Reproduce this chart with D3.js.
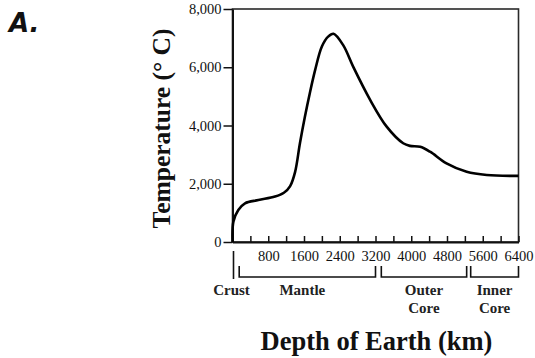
<!DOCTYPE html>
<html>
<head>
<meta charset="utf-8">
<script src="https://cdn.jsdelivr.net/npm/d3@7"></script>
<style>
  body { margin: 0; background: white; }
  svg { display: block; }
</style>
</head>
<body>
<div id="vizContainer"></div>
<script>
let w = 535;
let h = 358;

// temperature profile
let depthKm = [0, 20, 130, 280, 580, 950, 1150, 1290, 1400, 1510, 1620, 1730, 1850, 2000, 2140, 2260, 2480, 2700, 3080, 3450, 3820, 3970, 4200, 4420, 4790, 5240, 5690, 6400];
let tempC = [0, 700, 1100, 1330, 1440, 1560, 1690, 1920, 2400, 3400, 4300, 5110, 5910, 6710, 7050, 7150, 6750, 6020, 4880, 3960, 3390, 3300, 3270, 3100, 2700, 2410, 2300, 2270];

let yTicks = [0, 2000, 4000, 6000, 8000];
let xTickMarks = [400, 800, 1200, 1600, 2000, 2400, 2800, 3200, 3600, 4000, 4400, 4800, 5200, 5600, 6000, 6400];
let xTickLabels = [800, 1600, 2400, 3200, 4000, 4800, 5600, 6400];

// layers below the axis
let layerNames = [["Mantle"], ["Outer", "Core"], ["Inner", "Core"]];
let layerStart = [150, 3330, 5330];
let layerEnd = [3200, 5240, 6400];

let data = depthKm.map((d, i) => ({ depth: d, temp: tempC[i] }));

let viz = d3.select("#vizContainer")
  .append("svg")
  .attr("width", w)
  .attr("height", h)
  .style("background-color", "white")
  ;

let serif = "'Liberation Serif', 'Times New Roman', serif";

let xScale = d3.scaleLinear().domain([0, 6400]).range([232.5, 518.5]);
let yScale = d3.scaleLinear().domain([0, 8000]).range([242, 9]);

// frame
viz.append("rect")
  .attr("x", xScale(0))
  .attr("y", yScale(8000))
  .attr("width", xScale(6400) - xScale(0))
  .attr("height", yScale(0) - yScale(8000))
  .attr("fill", "none")
  .attr("stroke", "#2a2a2a")
  .attr("stroke-width", 1.6)
  ;

// y axis
let yAxisGroup = viz.append("g").attr("class", "yAxisGroup")
  .attr("transform", "translate(" + xScale(0) + ",0)");
yAxisGroup.call(d3.axisLeft(yScale)
  .tickValues(yTicks)
  .tickFormat(d3.format(","))
  .tickSizeInner(9)
  .tickSizeOuter(0)
  .tickPadding(2));
yAxisGroup.select(".domain").attr("stroke", "#111").attr("stroke-width", 2);
yAxisGroup.selectAll(".tick line").attr("stroke", "#111").attr("stroke-width", 1.5);
yAxisGroup.selectAll(".tick text")
  .attr("font-family", serif)
  .attr("font-size", 14.5)
  .attr("fill", "#111");

// x axis: ticks point up into the plot
let xAxisGroup = viz.append("g").attr("class", "xAxisGroup")
  .attr("transform", "translate(0," + yScale(0) + ")");
xAxisGroup.call(d3.axisBottom(xScale)
  .tickValues(xTickMarks)
  .tickFormat(d => xTickLabels.includes(d) ? d : "")
  .tickSizeInner(-6)
  .tickSizeOuter(0)
  .tickPadding(9));
xAxisGroup.select(".domain").attr("stroke", "#111").attr("stroke-width", 2);
xAxisGroup.selectAll(".tick line").attr("stroke", "#111").attr("stroke-width", 1.5);
xAxisGroup.selectAll(".tick text")
  .attr("font-family", serif)
  .attr("font-size", 14.5)
  .attr("fill", "#111");

// curve
let line = d3.line()
  .x(d => xScale(d.depth))
  .y(d => yScale(d.temp))
  .curve(d3.curveCatmullRom.alpha(0.5));

viz.append("path")
  .datum(data)
  .attr("d", line)
  .attr("fill", "none")
  .attr("stroke", "#000")
  .attr("stroke-width", 2.6)
  .attr("stroke-linejoin", "round")
  ;

// crust marker
let layerGroup = viz.append("g").attr("class", "layerGroup");
layerGroup.append("line")
  .attr("x1", xScale(0) + 1).attr("x2", xScale(0) + 1)
  .attr("y1", 251).attr("y2", 279)
  .attr("stroke", "#111").attr("stroke-width", 1.6);
layerGroup.append("text")
  .attr("x", xScale(0) - 1)
  .attr("y", 295)
  .attr("text-anchor", "middle")
  .attr("font-family", serif)
  .attr("font-size", 15)
  .attr("font-weight", "bold")
  .attr("fill", "#222")
  .text("Crust");

layerNames.forEach((name, i) => {
  let x0 = xScale(layerStart[i]);
  let x1 = xScale(layerEnd[i]);
  layerGroup.append("path")
    .attr("d", "M" + x0 + ",266V277H" + x1 + "V266")
    .attr("fill", "none")
    .attr("stroke", "#111")
    .attr("stroke-width", 1.6);
  let label = layerGroup.append("text")
    .attr("x", (x0 + x1) / 2 + (i == 0 ? -5 : 0))
    .attr("y", 295)
    .attr("text-anchor", "middle")
    .attr("font-family", serif)
    .attr("font-size", 15)
    .attr("font-weight", "bold")
    .attr("fill", "#222");
  name.forEach((part, j) => {
    label.append("tspan")
      .attr("x", (x0 + x1) / 2 + (i == 0 ? -5 : 0))
      .attr("dy", j == 0 ? 0 : 18)
      .text(part);
  });
});

// axis titles
viz.append("text")
  .attr("transform", "translate(170,128.5) rotate(-90)")
  .attr("text-anchor", "middle")
  .attr("font-family", serif)
  .attr("font-size", 25.5)
  .attr("font-weight", "bold")
  .attr("fill", "#111")
  .text("Temperature (° C)");

viz.append("text")
  .attr("x", 376.5)
  .attr("y", 350)
  .attr("text-anchor", "middle")
  .attr("font-family", serif)
  .attr("font-size", 26.5)
  .attr("font-weight", "bold")
  .attr("fill", "#111")
  .text("Depth of Earth (km)");

// panel letter
viz.append("text")
  .attr("x", 9)
  .attr("y", 32)
  .attr("font-family", "'DejaVu Sans', sans-serif")
  .attr("font-size", 26)
  .attr("font-weight", "bold")
  .attr("font-style", "italic")
  .attr("fill", "#111")
  .text("A.");
</script>
</body>
</html>
